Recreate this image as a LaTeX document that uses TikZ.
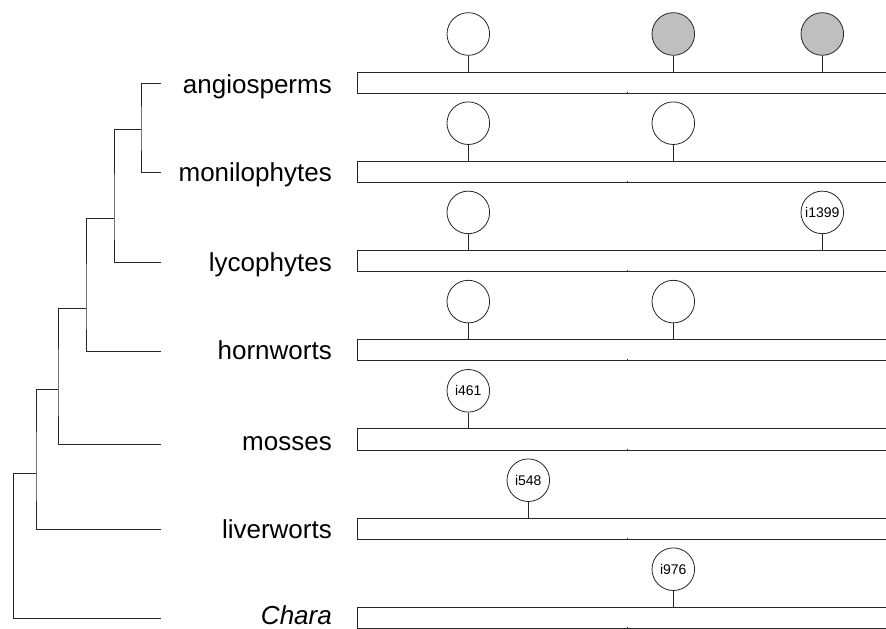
\documentclass[tikz,border=0pt]{standalone}
\usepackage{fontspec}
\setmainfont{Liberation Sans}
\begin{document}
\begin{tikzpicture}[x=1pt,y=-1pt,
  branch/.style={line width=0.9pt,draw=black!85},
  barline/.style={line width=0.9pt,draw=black!85},
  taxon/.style={anchor=base east,inner sep=0pt,font=\fontsize{26}{30}\selectfont},
  site/.style={circle,draw=black!85,line width=0.8pt,minimum size=42.6pt,inner sep=0pt,
               font=\fontsize{14}{16}\selectfont},
  gain/.style={site,fill=white},
  loss/.style={site,fill=black!25}]
\useasboundingbox (0,0) rectangle (886,629);

% ---- leaf tips of the tree ----
\coordinate (tA) at (161,83.3);
\coordinate (tM) at (161,172.3);
\coordinate (tL) at (161,262.3);
\coordinate (tH) at (161,351);
\coordinate (tMo) at (161,444);
\coordinate (tLi) at (161,529);
\coordinate (tC) at (161,618.3);

% ---- internal nodes ----
\coordinate (n1) at (141,129);
\coordinate (n2) at (114,218);
\coordinate (n3) at (86,308);
\coordinate (n4) at (58,389);
\coordinate (n5) at (36,473);
\coordinate (n6) at (13,473);

% ---- branches ----
\draw[branch] (tA) -| (n1) |- (tM);
\draw[branch] (n1) -| (n2) |- (tL);
\draw[branch] (n2) -| (n3) |- (tH);
\draw[branch] (n3) -| (n4) |- (tMo);
\draw[branch] (n4) -| (n5) |- (tLi);
\draw[branch] (n5) -- (n6) |- (tC);

% ---- taxon names ----
\node[taxon] (lA)  at (332,93)    {angiosperms};
\node[taxon] (lM)  at (332,181.5) {monilophytes};
\node[taxon] (lL)  at (332,271)   {lycophytes};
\node[taxon] (lH)  at (332,359.5) {hornworts};
\node[taxon] (lMo) at (332,450.5) {mosses};
\node[taxon] (lLi) at (332,538)   {liverworts};
\node[taxon] (lC)  at (332,624.5) {\itshape Chara};

% ---- gene bars ----
\foreach \i/\t in {0/72,1/161.2,2/250.4,3/339.6,4/428.8,5/518.2,6/607.2}{
  \coordinate (bar\i) at (357,\t);
  \draw[barline] (886,\t) -- (bar\i) -- ++(0,21.3) -- (886,\t+21.3);
  \draw[barline] (627,\t+21.3) -- ++(0,-1.6);
}

% ---- sites on the bars ----
\node[gain] (s01) at (468.3,34) {};
\node[loss] (s02) at (673.3,34) {};
\node[loss] (s03) at (822.3,34) {};
\node[gain] (s11) at (468.3,123.2) {};
\node[gain] (s12) at (673.3,123.2) {};
\node[gain] (s21) at (468.3,212.4) {};
\node[gain] (s23) at (822.3,212.4) {i1399};
\node[gain] (s31) at (468.3,301.6) {};
\node[gain] (s32) at (673.3,301.6) {};
\node[gain] (s41) at (468.3,390.8) {i461};
\node[gain] (s51) at (528.3,480.2) {i548};
\node[gain] (s61) at (673.3,569.2) {i976};

\foreach \s/\b in {s01/bar0,s02/bar0,s03/bar0,s11/bar1,s12/bar1,s21/bar2,s23/bar2,
                   s31/bar3,s32/bar3,s41/bar4,s51/bar5,s61/bar6}
  \draw[branch] (\s.south) -- (\s.south |- \b);
\end{tikzpicture}
\end{document}
